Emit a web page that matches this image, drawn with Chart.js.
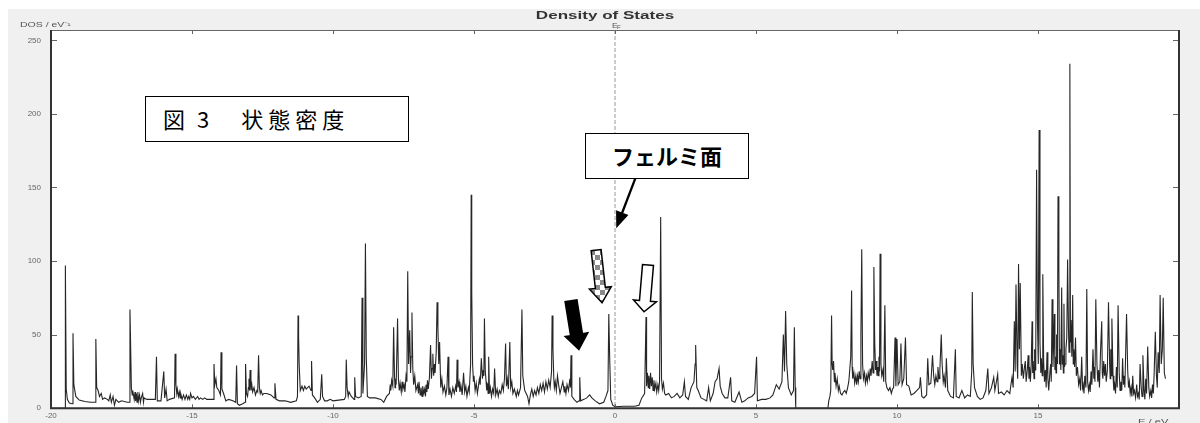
<!DOCTYPE html>
<html lang="ja">
<head>
<meta charset="UTF-8">
<title>Density of States</title>
<script src="https://cdn.jsdelivr.net/npm/chart.js"></script>
<style>
  html, body { margin: 0; padding: 0; background: #fff; }
  .wrap { position: relative; width: 1200px; height: 423px; overflow: hidden; }
  .note { position: absolute; background: #fff; border: 1.5px solid #000; box-sizing: border-box;
          color: #000; font-family: "Noto Sans CJK JP", sans-serif; white-space: nowrap; }
  #fig { left: 145px; top: 96px; width: 264px; height: 46px; font-size: 22px; line-height: 43px; padding-left: 17px; }
  #fig .num { margin-left: 12px; }
  #fig .wide { margin-left: 32px; letter-spacing: 5px; }
  #fermi { left: 585px; top: 133px; width: 164px; height: 46px; font-size: 22px; font-weight: bold;
           line-height: 43px; text-align: center; }
</style>
</head>
<body>
<div class="wrap">
  <canvas id="dos"></canvas>
  <div class="note" id="fig">図<span class="num">3</span><span class="wide">状態密度</span></div>
  <div class="note" id="fermi">フェルミ面</div>
</div>

<script>
// energy (eV) / DOS (1/eV), by region
const bandA = [
  [-20, 0], [-19.5, 0], [-19.49, 97], [-19.46, 13], [-19.42, 6], [-19.35, 3.5], [-19.25, 3], [-19.22, 51],
  [-19.19, 16], [-19.12, 8], [-19.0, 5.5], [-18.8, 4.5], [-18.6, 4], [-18.43, 4], [-18.41, 47], [-18.38, 14],
  [-18.33, 12], [-18.28, 8], [-18.22, 10], [-18.17, 6], [-18.1, 7], [-18.0, 6], [-17.95, 5], [-17.9, 9],
  [-17.86, 4], [-17.8, 8], [-17.75, 2], [-17.7, 6], [-17.6, 4], [-17.5, 5], [-17.3, 4], [-17.22, 4],
  [-17.2, 67], [-17.18, 47], [-17.15, 14], [-17.12, 9], [-17.1, 12], [-17.05, 6], [-17.02, 11], [-17.0, 5],
  [-16.97, 10], [-16.95, 4], [-16.92, 11], [-16.9, 5], [-16.86, 9], [-16.83, 4], [-16.8, 7], [-16.75, 10],
  [-16.72, 4], [-16.7, 7], [-16.6, 6], [-16.5, 6], [-16.3, 6], [-16.26, 35], [-16.23, 5], [-16.1, 5],
  [-16.0, 25], [-15.97, 7], [-15.92, 13], [-15.88, 5], [-15.8, 6], [-15.62, 7], [-15.6, 37], [-15.57, 16],
  [-15.54, 10], [-15.52, 13], [-15.48, 8], [-15.45, 11], [-15.42, 7], [-15.4, 10], [-15.35, 6], [-15.3, 9],
  [-15.25, 6], [-15.2, 9], [-15.15, 6], [-15.12, 8], [-15.08, 6], [-15.05, 10], [-15.0, 7], [-14.95, 8],
  [-14.88, 6], [-14.8, 8], [-14.75, 6], [-14.7, 7], [-14.62, 6], [-14.55, 7], [-14.48, 6], [-14.4, 6],
  [-14.3, 6], [-14.25, 6], [-14.22, 30], [-14.19, 16], [-14.15, 20], [-14.12, 14], [-14.05, 12], [-13.99, 9],
  [-13.97, 38], [-13.94, 13], [-13.88, 10], [-13.8, 5], [-13.7, 6], [-13.55, 5], [-13.45, 4], [-13.42, 29],
  [-13.39, 3], [-13.32, 2], [-13.2, 3], [-13.12, 4], [-13.1, 30], [-13.07, 10], [-13.03, 8], [-13.0, 14],
  [-12.98, 20], [-12.96, 12], [-12.94, 26], [-12.91, 12], [-12.88, 16], [-12.85, 11], [-12.8, 14], [-12.75, 9],
  [-12.7, 12], [-12.67, 11], [-12.64, 36], [-12.61, 14], [-12.58, 10], [-12.55, 12], [-12.5, 9], [-12.45, 10],
  [-12.35, 10], [-12.2, 9], [-12.09, 7], [-12.06, 17], [-12.02, 6], [-11.9, 5], [-11.7, 5], [-11.5, 4],
  [-11.3, 5], [-11.26, 8], [-11.24, 63], [-11.22, 49], [-11.2, 30], [-11.16, 12], [-11.1, 15], [-11.05, 12],
  [-11.0, 15], [-10.95, 13], [-10.85, 15], [-10.78, 12], [-10.76, 32], [-10.73, 9], [-10.65, 7], [-10.55, 4],
  [-10.45, 6], [-10.4, 23], [-10.37, 8], [-10.3, 5], [-10.2, 5], [-10.1, 6]
];
const bandB = [
  [-10.0, 5], [-9.8, 5.5], [-9.6, 6], [-9.55, 8], [-9.53, 33], [-9.5, 14], [-9.46, 8], [-9.43, 11],
  [-9.35, 8], [-9.25, 6], [-9.23, 21], [-9.2, 8], [-9.1, 7], [-9.0, 8], [-8.97, 75], [-8.94, 10],
  [-8.88, 30], [-8.85, 112], [-8.82, 35], [-8.78, 8], [-8.7, 7], [-8.5, 7], [-8.3, 6], [-8.2, 4],
  [-8.1, 8], [-8.0, 10], [-7.97, 16], [-7.95, 12], [-7.92, 19], [-7.88, 15], [-7.85, 55], [-7.82, 22],
  [-7.8, 14], [-7.78, 20], [-7.76, 16], [-7.71, 61], [-7.68, 20], [-7.65, 12], [-7.62, 17], [-7.58, 11],
  [-7.55, 18], [-7.52, 13], [-7.48, 16], [-7.45, 11], [-7.41, 22], [-7.38, 18], [-7.35, 93], [-7.32, 30],
  [-7.28, 53], [-7.25, 24], [-7.23, 35], [-7.2, 65], [-7.17, 27], [-7.14, 16], [-7.1, 22], [-7.06, 12],
  [-7.0, 16], [-6.97, 10], [-6.95, 18], [-6.91, 9], [-6.88, 14], [-6.84, 8], [-6.82, 15], [-6.78, 10],
  [-6.75, 13], [-6.72, 8], [-6.7, 16], [-6.67, 11], [-6.65, 19], [-6.62, 13], [-6.58, 21], [-6.54, 43],
  [-6.51, 20], [-6.48, 27], [-6.46, 37], [-6.43, 22], [-6.4, 30], [-6.38, 24], [-6.34, 38], [-6.31, 72],
  [-6.28, 55], [-6.25, 30], [-6.22, 45], [-6.18, 14], [-6.14, 20], [-6.1, 11], [-6.05, 15], [-6.0, 9],
  [-5.96, 14], [-5.92, 35], [-5.89, 9], [-5.85, 13], [-5.8, 8], [-5.75, 14], [-5.7, 10], [-5.65, 15],
  [-5.62, 11], [-5.6, 33], [-5.57, 14], [-5.53, 18], [-5.5, 11], [-5.46, 15], [-5.42, 9], [-5.37, 24],
  [-5.33, 11], [-5.29, 15], [-5.25, 8], [-5.2, 14], [-5.17, 11], [-5.12, 30], [-5.1, 145], [-5.08, 79],
  [-5.05, 30], [-5.02, 18], [-5.0, 22], [-4.96, 12], [-4.92, 17], [-4.88, 10], [-4.85, 14], [-4.81, 20],
  [-4.78, 16], [-4.74, 34], [-4.7, 20], [-4.67, 26], [-4.65, 22], [-4.63, 61], [-4.6, 25], [-4.57, 18],
  [-4.55, 12], [-4.52, 17], [-4.5, 10], [-4.48, 35], [-4.45, 10], [-4.42, 14], [-4.38, 8], [-4.34, 13],
  [-4.3, 10], [-4.27, 27], [-4.23, 9], [-4.18, 13], [-4.14, 8], [-4.1, 12], [-4.05, 10], [-4.0, 16],
  [-3.96, 12], [-3.92, 20], [-3.88, 44], [-3.85, 15], [-3.82, 20], [-3.78, 13], [-3.73, 45], [-3.7, 14],
  [-3.66, 18], [-3.62, 10], [-3.57, 13], [-3.5, 8], [-3.46, 12], [-3.42, 9], [-3.35, 14], [-3.3, 67],
  [-3.27, 22], [-3.23, 16], [-3.2, 12], [-3.15, 10], [-3.1, 8], [-3.05, 3], [-3.0, 9], [-2.95, 13],
  [-2.9, 8], [-2.85, 12], [-2.8, 9], [-2.75, 14], [-2.7, 10], [-2.65, 16], [-2.6, 12], [-2.55, 17],
  [-2.5, 11], [-2.45, 18], [-2.4, 13], [-2.35, 19], [-2.3, 14], [-2.25, 25], [-2.23, 63], [-2.2, 40],
  [-2.17, 20], [-2.15, 14], [-2.12, 18], [-2.08, 12], [-2.04, 22], [-2.0, 16], [-1.95, 10], [-1.9, 14],
  [-1.85, 18], [-1.8, 11], [-1.78, 15], [-1.74, 10], [-1.7, 16], [-1.65, 12], [-1.6, 20], [-1.58, 14],
  [-1.56, 36], [-1.53, 8], [-1.45, 6], [-1.35, 4], [-1.27, 5], [-1.25, 21], [-1.22, 5], [-1.1, 6],
  [-1.0, 7], [-0.9, 9], [-0.82, 7], [-0.7, 5], [-0.55, 3], [-0.4, 4], [-0.32, 8], [-0.25, 12],
  [-0.22, 64], [-0.19, 35], [-0.15, 6], [-0.08, 2], [0, 1]
];
const bandC = [
  [0.3, 1.3], [0.7, 1.3], [0.85, 2], [0.95, 7], [1.05, 10], [1.1, 62], [1.12, 15], [1.15, 24],
  [1.18, 14], [1.2, 22], [1.23, 13], [1.26, 24], [1.29, 15], [1.32, 21], [1.35, 12], [1.38, 19],
  [1.41, 13], [1.45, 17], [1.48, 11], [1.52, 16], [1.55, 12], [1.58, 18], [1.62, 130], [1.65, 20],
  [1.68, 13], [1.72, 17], [1.76, 10], [1.8, 9], [1.9, 10], [2.0, 7], [2.1, 8], [2.2, 10],
  [2.3, 7], [2.4, 9], [2.46, 18], [2.5, 8], [2.6, 6], [2.7, 14], [2.8, 18], [2.84, 30],
  [2.86, 43], [2.9, 14], [2.95, 12], [3.05, 7], [3.15, 6], [3.25, 5], [3.32, 14], [3.38, 5],
  [3.48, 10], [3.55, 18], [3.62, 20], [3.69, 27], [3.73, 15], [3.8, 10], [3.9, 7], [4.0, 7],
  [4.1, 21], [4.14, 5], [4.25, 4], [4.4, 11], [4.5, 4], [4.6, 5], [4.72, 7], [4.85, 8],
  [4.95, 10], [5.02, 35], [5.05, 5], [5.2, 6], [5.35, 6], [5.5, 7], [5.6, 9], [5.72, 16],
  [5.82, 13], [5.92, 18], [5.97, 50], [6.01, 25], [6.05, 66], [6.09, 30], [6.15, 14], [6.25, 9],
  [6.33, 12], [6.36, 55], [6.39, 14], [6.41, 0], [7.55, 0], [7.58, 5], [7.62, 8], [7.65, 12],
  [7.68, 63], [7.7, 30], [7.72, 26], [7.75, 32], [7.78, 18], [7.8, 24], [7.84, 15], [7.88, 20],
  [7.92, 12], [7.95, 15], [8.0, 10], [8.05, 9], [8.1, 11], [8.15, 12], [8.2, 10], [8.25, 14],
  [8.29, 18], [8.32, 25], [8.36, 35], [8.39, 80], [8.41, 28], [8.43, 20], [8.47, 24], [8.5, 17],
  [8.54, 22], [8.57, 16], [8.6, 22], [8.63, 18], [8.66, 25], [8.69, 20], [8.72, 50], [8.75, 108],
  [8.78, 30], [8.81, 20], [8.85, 24], [8.88, 17], [8.92, 22], [8.95, 18], [8.98, 24], [9.02, 20],
  [9.05, 27], [9.08, 22], [9.12, 32], [9.15, 24], [9.18, 96], [9.21, 45], [9.24, 26], [9.26, 32],
  [9.29, 22], [9.32, 28], [9.34, 22], [9.36, 35], [9.38, 25], [9.4, 105], [9.43, 30], [9.46, 22],
  [9.5, 26], [9.53, 18], [9.57, 70], [9.6, 18], [9.64, 14], [9.7, 12], [9.75, 14], [9.8, 10],
  [9.84, 13], [9.88, 14], [9.93, 48], [9.96, 15]
];
const bandD = [
  [10.0, 47], [10.04, 16], [10.1, 18], [10.14, 44], [10.18, 16], [10.24, 20], [10.3, 48], [10.34, 16],
  [10.42, 15], [10.5, 9], [10.6, 10], [10.7, 12], [10.8, 14], [10.83, 21], [10.88, 8], [10.95, 7],
  [11.05, 9], [11.09, 34], [11.13, 16], [11.2, 17], [11.26, 36], [11.3, 22], [11.34, 16], [11.38, 22],
  [11.42, 18], [11.45, 28], [11.49, 20], [11.52, 26], [11.57, 50], [11.6, 30], [11.64, 18], [11.67, 22],
  [11.72, 14], [11.75, 34], [11.8, 12], [11.9, 8], [12.0, 7], [12.07, 40], [12.1, 8], [12.2, 7],
  [12.3, 12], [12.4, 7], [12.5, 9], [12.6, 8], [12.65, 25], [12.67, 79], [12.7, 30], [12.75, 14],
  [12.85, 8], [12.95, 6], [13.05, 7], [13.15, 12], [13.22, 27], [13.26, 10], [13.35, 14], [13.43, 21],
  [13.47, 12], [13.57, 23], [13.6, 10], [13.7, 11], [13.8, 9], [13.9, 12], [14.0, 10], [14.04, 16],
  [14.08, 21], [14.12, 14], [14.16, 59], [14.19, 25], [14.22, 84], [14.26, 30], [14.28, 20], [14.31, 98],
  [14.34, 40], [14.37, 85], [14.41, 22], [14.44, 30], [14.48, 20], [14.52, 28], [14.55, 32], [14.58, 18],
  [14.62, 26], [14.65, 36], [14.68, 20], [14.7, 28], [14.73, 18], [14.76, 30], [14.79, 59], [14.81, 24],
  [14.83, 32], [14.86, 20], [14.88, 40], [14.9, 26], [14.92, 34], [14.95, 162], [14.98, 60], [15.01, 30],
  [15.04, 189], [15.07, 45], [15.1, 24], [15.12, 34], [15.15, 22], [15.17, 91], [15.2, 32], [15.23, 18],
  [15.26, 26], [15.29, 14], [15.32, 38], [15.35, 20], [15.38, 12], [15.42, 24], [15.45, 30], [15.47, 18],
  [15.5, 74], [15.53, 28], [15.55, 40], [15.58, 64], [15.6, 26], [15.62, 35], [15.64, 24], [15.66, 50],
  [15.69, 30], [15.71, 144], [15.74, 96], [15.76, 30], [15.78, 40], [15.81, 26], [15.84, 82], [15.86, 30],
  [15.88, 36], [15.9, 24], [15.92, 71], [15.94, 28], [15.96, 30], [15.99, 40], [16.02, 48], [16.05, 101],
  [16.08, 55], [16.1, 38], [16.13, 234], [16.15, 45], [16.17, 60], [16.2, 35], [16.23, 77], [16.25, 30],
  [16.27, 40], [16.3, 28], [16.33, 48], [16.36, 22], [16.4, 28], [16.44, 16], [16.48, 20], [16.51, 12],
  [16.55, 35], [16.58, 14], [16.6, 16], [16.63, 10], [16.66, 22], [16.7, 14], [16.73, 81], [16.76, 18],
  [16.79, 12], [16.82, 16], [16.85, 11], [16.88, 25], [16.91, 16], [16.95, 40], [16.98, 20], [17.0, 28],
  [17.02, 18], [17.05, 74], [17.09, 30], [17.12, 18], [17.15, 26], [17.18, 14], [17.22, 40], [17.26, 59],
  [17.28, 24], [17.3, 20], [17.33, 32], [17.36, 22], [17.39, 30], [17.42, 18], [17.46, 26], [17.5, 72],
  [17.54, 30], [17.56, 20], [17.58, 40], [17.6, 22], [17.62, 61], [17.66, 22], [17.69, 12], [17.72, 16],
  [17.75, 10], [17.78, 28], [17.81, 14], [17.84, 70], [17.88, 24], [17.91, 12], [17.94, 18], [17.97, 12],
  [18.0, 34], [18.03, 16], [18.06, 22], [18.08, 14], [18.1, 30], [18.14, 64], [18.18, 26], [18.21, 14],
  [18.24, 18], [18.27, 10], [18.3, 14], [18.33, 8], [18.36, 22], [18.39, 10], [18.42, 12], [18.46, 7],
  [18.5, 16], [18.53, 8], [18.56, 10], [18.59, 6], [18.62, 30], [18.66, 14], [18.69, 8], [18.72, 36],
  [18.76, 12], [18.79, 6], [18.82, 20], [18.85, 10], [18.89, 42], [18.93, 14], [18.96, 8], [19.0, 12],
  [19.03, 7], [19.06, 16], [19.09, 10], [19.12, 24], [19.16, 52], [19.2, 22], [19.23, 14], [19.26, 38],
  [19.3, 24], [19.33, 77], [19.37, 30], [19.41, 40], [19.44, 75], [19.48, 24], [19.52, 20]
];

const xTicks = [-20, -15, -10, -5, 0, 5, 10, 15, 20];
const xTickLabels = ['-20', '-15', '-10', '-5', '0', '5', '10', '15', ''];
const yTicks = [0, 50, 100, 150, 200, 250];

// arrows in data coords: [fromE, fromDOS, toE, toDOS]
const fermiArrow = [0.745, 157.4, 0.07, 123.6];
const checkArrow = [-0.67, 107.4, -0.46, 71.6];
const whiteArrow = [1.17, 97.3, 1.03, 65.5];
const blackArrow = [-1.56, 73, -1.28, 39.9];

const points = [...bandA, ...bandB, ...bandC, ...bandD].map(([x, y]) => ({ x, y }));
const tickFont = { family: '"Liberation Sans", Arial, sans-serif', size: 8 };

function blockArrow(ctx, x1, y1, x2, y2, shaft, head, headLen, fill) {
  const len = Math.hypot(x2 - x1, y2 - y1);
  const ux = (x2 - x1) / len, uy = (y2 - y1) / len;
  const nx = -uy, ny = ux;
  const bx = x2 - ux * headLen, by = y2 - uy * headLen;
  const pts = [
    [x1 + nx * shaft / 2, y1 + ny * shaft / 2],
    [bx + nx * shaft / 2, by + ny * shaft / 2],
    [bx + nx * head / 2, by + ny * head / 2],
    [x2, y2],
    [bx - nx * head / 2, by - ny * head / 2],
    [bx - nx * shaft / 2, by - ny * shaft / 2],
    [x1 - nx * shaft / 2, y1 - ny * shaft / 2]
  ];
  ctx.beginPath();
  pts.forEach((p, i) => i ? ctx.lineTo(p[0], p[1]) : ctx.moveTo(p[0], p[1]));
  ctx.closePath();
  ctx.fillStyle = fill;
  ctx.fill();
  ctx.lineWidth = 1.5;
  ctx.strokeStyle = '#000';
  ctx.lineJoin = 'miter';
  ctx.stroke();
}

function stretchedText(ctx, text, x, y, font, sx, align) {
  ctx.save();
  ctx.font = font;
  ctx.translate(x, y);
  ctx.scale(sx, 1);
  ctx.textAlign = align;
  ctx.textBaseline = 'middle';
  ctx.fillText(text, 0, 0);
  ctx.restore();
}

const decor = {
  id: 'decor',
  beforeDraw(chart) {
    const { ctx, chartArea: a } = chart;
    ctx.save();
    ctx.fillStyle = '#fff';
    ctx.fillRect(0, 0, chart.width, chart.height);
    ctx.fillStyle = '#f0f0f0';
    ctx.fillRect(8, 9, chart.width - 8, chart.height - 9);
    ctx.fillStyle = '#fff';
    ctx.fillRect(a.left, a.top, a.width, a.height);
    ctx.restore();
  },
  beforeDatasetsDraw(chart) {
    const { ctx, chartArea: a, scales } = chart;
    const x0 = scales.x.getPixelForValue(0);
    ctx.save();
    ctx.strokeStyle = '#999';
    ctx.lineWidth = 1;
    ctx.setLineDash([4, 2]);
    ctx.beginPath();
    ctx.moveTo(x0, a.top);
    ctx.lineTo(x0, a.bottom);
    ctx.stroke();
    ctx.restore();
  },
  afterDatasetsDraw(chart) {
    const { ctx, chartArea: a, scales } = chart;
    const X = v => scales.x.getPixelForValue(v), Y = v => scales.y.getPixelForValue(v);
    ctx.save();

    // inward tick marks on all four sides
    ctx.strokeStyle = '#666';
    ctx.lineWidth = 1;
    ctx.beginPath();
    yTicks.forEach(v => {
      const y = Math.round(Y(v)) + 0.5;
      ctx.moveTo(a.left, y); ctx.lineTo(a.left + 6, y);
      ctx.moveTo(a.right, y); ctx.lineTo(a.right - 6, y);
    });
    xTicks.forEach(v => {
      const x = Math.round(X(v)) + 0.5;
      ctx.moveTo(x, a.top); ctx.lineTo(x, a.top + 4);
      ctx.moveTo(x, a.bottom); ctx.lineTo(x, a.bottom - 4);
    });
    ctx.stroke();

    // frame
    ctx.lineWidth = 1;
    ctx.strokeStyle = '#666';
    ctx.beginPath();
    ctx.moveTo(a.left, a.top + 0.5); ctx.lineTo(a.right, a.top + 0.5);
    ctx.stroke();
    ctx.lineWidth = 2;
    ctx.strokeStyle = '#333';
    ctx.beginPath();
    ctx.moveTo(a.left, a.top); ctx.lineTo(a.left, a.bottom);
    ctx.lineTo(a.right, a.bottom); ctx.lineTo(a.right, a.top);
    ctx.stroke();

    // texts
    ctx.fillStyle = '#333';
    stretchedText(ctx, 'Density of States', (a.left + a.right) / 2 - 10, 16, 'bold 11px "Liberation Sans", Arial', 1.55, 'center');
    ctx.fillStyle = '#555';
    stretchedText(ctx, 'DOS / eV⁻¹', 20, 25, '7px "Liberation Sans", Arial', 1.5, 'left');
    stretchedText(ctx, 'E / eV', 1138, 422, '8px "Liberation Sans", Arial', 1.4, 'left');
    stretchedText(ctx, 'E', X(0) - 3, 26, '7px "Liberation Sans", Arial', 1.2, 'left');
    stretchedText(ctx, 'F', X(0) + 2, 28, '5px "Liberation Sans", Arial', 1.2, 'left');

    // annotation arrows
    const pc = document.createElement('canvas');
    pc.width = pc.height = 10;
    const p = pc.getContext('2d');
    p.fillStyle = '#fff'; p.fillRect(0, 0, 10, 10);
    p.fillStyle = '#8a8a8a'; p.fillRect(0, 0, 5, 5); p.fillRect(5, 5, 5, 5);
    const checker = ctx.createPattern(pc, 'repeat');

    const draw = (arr, shaft, head, headLen, fill) =>
      blockArrow(ctx, X(arr[0]), Y(arr[1]), X(arr[2]), Y(arr[3]), shaft, head, headLen, fill);
    draw(fermiArrow, 0.8, 11, 14, '#000');
    draw(checkArrow, 10, 22, 15, checker);
    draw(whiteArrow, 11, 23, 11, '#fff');
    draw(blackArrow, 12, 23, 15, '#000');
    ctx.restore();
  }
};

new Chart(document.getElementById('dos'), {
  type: 'line',
  data: {
    datasets: [{
      data: points,
      borderColor: '#262626',
      borderWidth: 1.1,
      pointRadius: 0,
      tension: 0,
      fill: false
    }]
  },
  options: {
    responsive: true,
    maintainAspectRatio: false,
    animation: false,
    layout: { padding: { top: 30, right: 21, left: 0, bottom: 0 } },
    plugins: { legend: { display: false }, tooltip: { enabled: false } },
    scales: {
      x: {
        type: 'linear',
        min: -20,
        max: 20,
        afterBuildTicks: s => { s.ticks = xTicks.map(v => ({ value: v })); },
        afterFit: s => { s.height = 12; },
        grid: { display: false, drawTicks: false },
        border: { display: false },
        ticks: {
          padding: 3,
          maxRotation: 0,
          autoSkip: false,
          color: '#666',
          font: tickFont,
          callback: v => xTickLabels[xTicks.indexOf(v)]
        }
      },
      y: {
        type: 'linear',
        min: 0,
        max: 257,
        afterBuildTicks: s => { s.ticks = yTicks.map(v => ({ value: v })); },
        afterFit: s => { s.width = 51; },
        grid: { display: false, drawTicks: false },
        border: { display: false },
        ticks: { padding: 10, color: '#666', font: tickFont }
      }
    }
  },
  plugins: [decor]
});
</script>
</body>
</html>
